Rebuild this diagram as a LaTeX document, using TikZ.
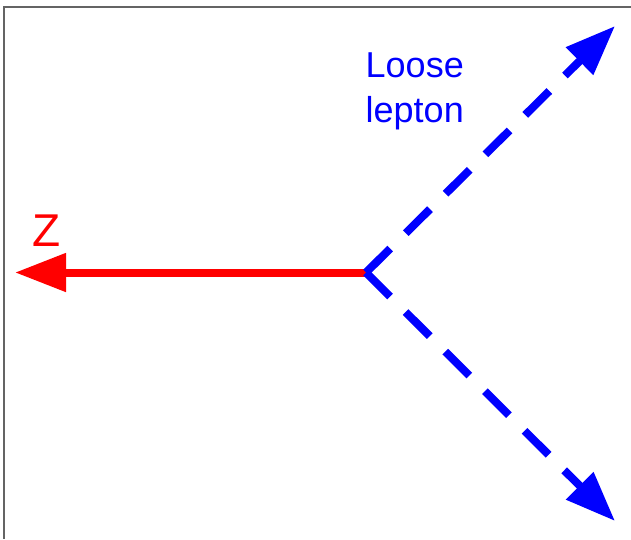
\documentclass[tikz,border=0pt]{standalone}
\usepackage{fontspec}
\setmainfont{Liberation Sans}
\usetikzlibrary{arrows.meta}
\definecolor{framegray}{RGB}{100,100,100}
\definecolor{zred}{RGB}{255,0,0}
\definecolor{lblue}{RGB}{0,0,255}
\tikzset{
  framebar/.style={draw=framegray, line width=2.2pt},
  zarrow/.style={draw=zred, line width=8pt, -{Triangle[length=51pt,width=37pt]}},
  larrow/.style={draw=lblue, line width=8pt, dash pattern=on 34pt off 22pt,
    -{Triangle[length=50pt,width=37pt]}},
  lbl/.style={inner sep=0pt, anchor=base west},
}
\begin{document}
\begin{tikzpicture}[x=1pt,y=-1pt]
\useasboundingbox (0,0) rectangle (631,539);
\coordinate (ftl) at (4,7);
\coordinate (ftr) at (631,7);
\coordinate (fbl) at (4,539);
\draw[framebar] (ftr) -- (ftl) -- (fbl);
\coordinate (V) at (366,272.5);
\coordinate (Zend) at (15,272.5);
\coordinate (Uend) at (615,26);
\coordinate (Lend) at (615,521);
\draw[zarrow] (V) -- (Zend);
\draw[larrow] (V) -- (Uend);
\draw[larrow] (V) -- (Lend);
\node[lbl, text=zred, font=\fontsize{46}{52}\selectfont] (zlab) at (32,246) {Z};
\node[lbl, text=lblue, font=\fontsize{36}{43}\selectfont] (loose) at (365.5,77) {Loose};
\node[lbl, text=lblue, font=\fontsize{36}{43}\selectfont] (lepton) at (365.5,122) {lepton};
\end{tikzpicture}
\end{document}
